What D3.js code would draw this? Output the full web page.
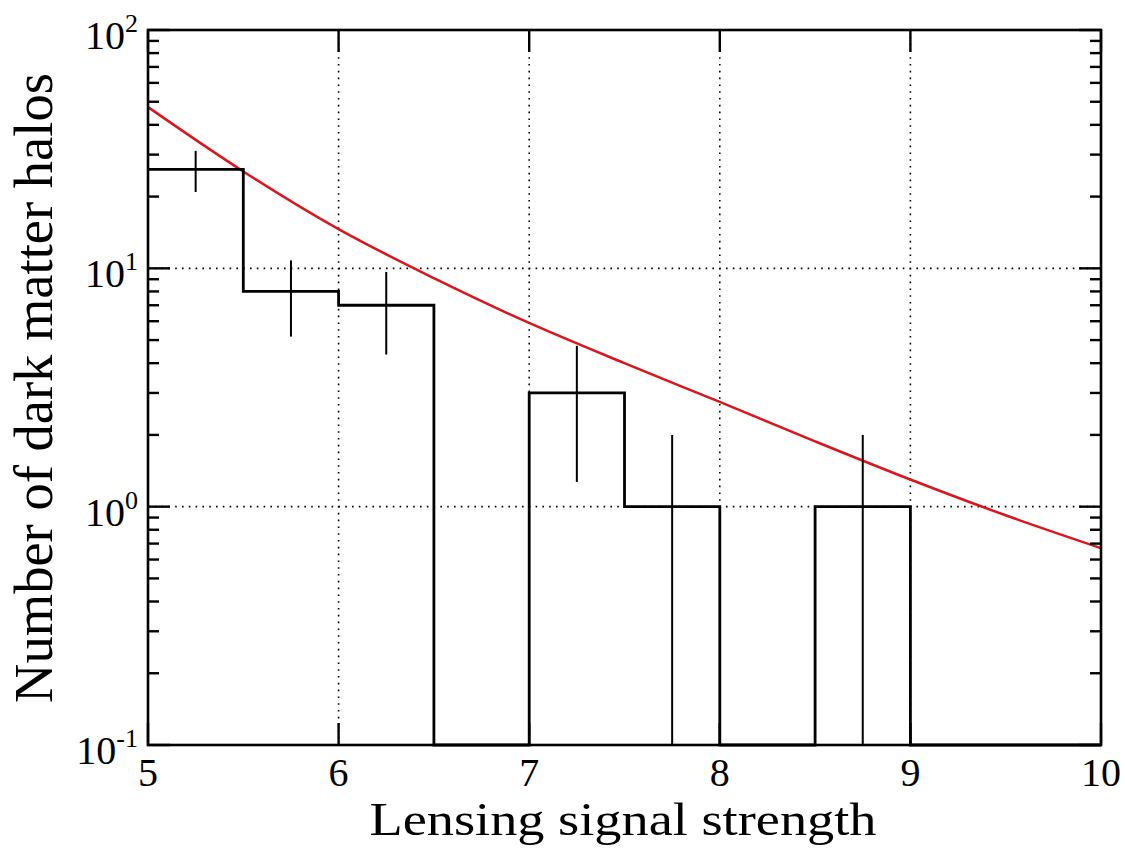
<!DOCTYPE html>
<html>
<head>
<meta charset="utf-8">
<script src="https://cdn.jsdelivr.net/npm/d3@7"></script>
<style>
html,body{margin:0;padding:0;background:#fff;}
svg{display:block;font-family:"Liberation Serif","DejaVu Serif",serif;}
</style>
</head>
<body>
<svg id="chart" width="1125" height="849"></svg>
<script>
// ---- data ----
const binEdges = [5, 5.5, 6, 6.5, 7, 7.5, 8, 8.5, 9, 9.5, 10];
const binCounts = [26, 8, 7, 0, 3, 1, 0, 1, 0, 0];
const errX = [5.25, 5.75, 6.25, 7.25, 7.75, 8.75];
const errHigh = [31.1, 10.8, 9.65, 4.73, 2.0, 2.0];
const errLow = [20.9, 5.17, 4.35, 1.27, 0.1, 0.1];
const modelX = [5, 5.5, 6, 6.5, 7, 7.5, 8, 8.5, 9, 9.5, 10];
const modelY = [47.5, 25.5, 14.6, 9.1, 5.9, 4.0, 2.75, 1.88, 1.3, 0.92, 0.67];
const xTicks = [5, 6, 7, 8, 9, 10];
const yDecades = [0.1, 1, 10, 100];
const yExponents = ["-1", "0", "1", "2"];
const xGrid = [6, 7, 8, 9];
const yGrid = [1, 10];
const xTitle = "Lensing signal strength";
const yTitle = "Number of dark matter halos";

// ---- layout ----
const L = 148, R = 1101, T = 30, B = 745;
const svg = d3.select("#chart");
const x = d3.scaleLinear().domain([5, 10]).range([L, R]);
const y = d3.scaleLog().domain([0.1, 100]).range([B, T]);

// grid
const grid = svg.append("g").attr("stroke", "#000").attr("stroke-width", 1.6)
  .attr("stroke-dasharray", "1.6,5.2");
grid.selectAll(".gx").data(xGrid).join("line")
  .attr("x1", d => x(d)).attr("x2", d => x(d)).attr("y1", T).attr("y2", B);
grid.selectAll(".gy").data(yGrid).join("line")
  .attr("y1", d => y(d)).attr("y2", d => y(d)).attr("x1", L).attr("x2", R);

// red model curve
svg.append("path")
  .datum(modelX.map((d, i) => [d, modelY[i]]))
  .attr("fill", "none").attr("stroke", "#d9161c").attr("stroke-width", 2.5)
  .attr("d", d3.line().x(d => x(d[0])).y(d => y(d[1])).curve(d3.curveMonotoneX));

// histogram step
const yc = v => v > 0 ? y(v) : y(0.1);
let pts = [[binEdges[0], yc(binCounts[0])]];
binCounts.forEach((c, i) => {
  pts.push([binEdges[i + 1], yc(c)]);
  if (i + 1 < binCounts.length) pts.push([binEdges[i + 1], yc(binCounts[i + 1])]);
});
svg.append("path")
  .attr("fill", "none").attr("stroke", "#000").attr("stroke-width", 2.8)
  .attr("d", d3.line().x(d => x(d[0])).y(d => d[1])(pts));

// error bars
svg.append("g").attr("stroke", "#000").attr("stroke-width", 2)
  .selectAll("line").data(errX).join("line")
  .attr("x1", d => x(d)).attr("x2", d => x(d))
  .attr("y1", (d, i) => y(errHigh[i])).attr("y2", (d, i) => y(errLow[i]));

// frame
svg.append("rect").attr("x", L).attr("y", T).attr("width", R - L).attr("height", B - T)
  .attr("fill", "none").attr("stroke", "#000").attr("stroke-width", 2.6);

// axes ticks
const ax = svg.append("g").attr("stroke", "#000").attr("stroke-width", 2.4);
const minorVals = [];
yDecades.slice(0, 3).forEach(dd => { for (let k = 2; k <= 9; k++) minorVals.push(dd * k); });
yDecades.forEach(v => {
  ax.append("line").attr("x1", L).attr("x2", L + 22).attr("y1", y(v)).attr("y2", y(v));
  ax.append("line").attr("x1", R).attr("x2", R - 22).attr("y1", y(v)).attr("y2", y(v));
});
minorVals.forEach(v => {
  ax.append("line").attr("x1", L).attr("x2", L + 11).attr("y1", y(v)).attr("y2", y(v));
  ax.append("line").attr("x1", R).attr("x2", R - 11).attr("y1", y(v)).attr("y2", y(v));
});
xTicks.forEach(v => {
  ax.append("line").attr("x1", x(v)).attr("x2", x(v)).attr("y1", B).attr("y2", B - 22);
  ax.append("line").attr("x1", x(v)).attr("x2", x(v)).attr("y1", T).attr("y2", T + 22);
});

// x tick labels
svg.append("g").selectAll("text").data(xTicks).join("text")
  .attr("x", d => x(d)).attr("y", 786).attr("text-anchor", "middle")
  .attr("font-size", 40).attr("fill", "#000").text(d => d);

// y tick labels
yDecades.forEach((v, i) => {
  const t = svg.append("text").attr("x", 138).attr("y", y(v) + 19)
    .attr("text-anchor", "end").attr("font-size", 40).attr("fill", "#000");
  t.append("tspan").text("10");
  t.append("tspan").attr("font-size", 26).attr("dy", -17).text(yExponents[i]);
});

// titles
svg.append("text").attr("x", 623).attr("y", 835).attr("text-anchor", "middle")
  .attr("font-size", 47).attr("fill", "#000")
  .attr("textLength", 507).attr("lengthAdjust", "spacingAndGlyphs").text(xTitle);

const yt = svg.append("text").attr("transform", "translate(52,388) rotate(-90)")
  .attr("text-anchor", "middle").attr("font-size", 52).attr("fill", "#000").text(yTitle);
const w = yt.node().getComputedTextLength();
yt.attr("font-size", 52 * 630 / w);
</script>
</body>
</html>
